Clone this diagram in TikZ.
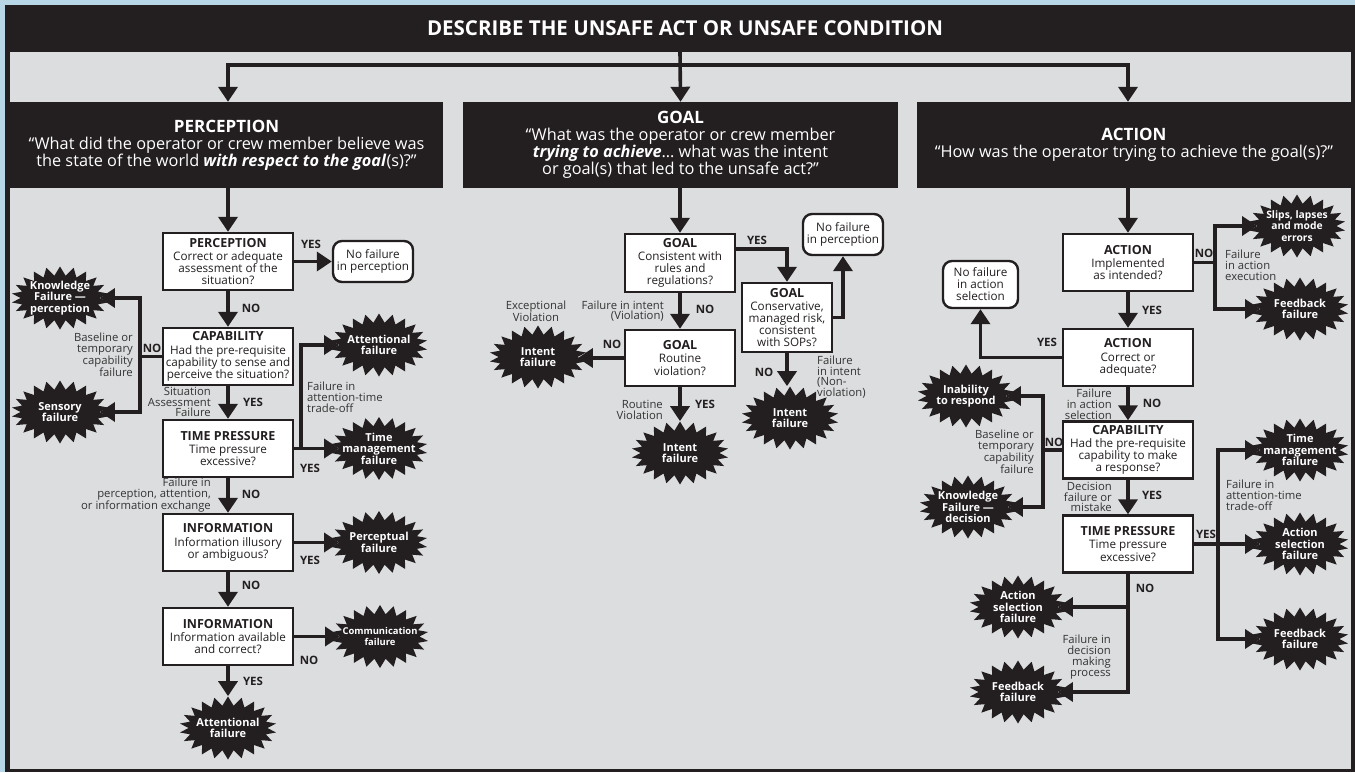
\documentclass[tikz,border=0pt]{standalone}
\usepackage{fontspec}
\setmainfont{Open Sans}
\usetikzlibrary{shapes.symbols,arrows.meta}
\definecolor{dark}{HTML}{231F20}
\definecolor{panel}{HTML}{DCDDDF}
\definecolor{sky}{HTML}{B7D6E6}
\definecolor{lbl}{HTML}{333333}
\newcommand\bxtitle[1]{{\bfseries\fontsize{12.5}{12}\selectfont #1}}
\newcommand\colhead[1]{{\bfseries\fontsize{17}{17}\selectfont #1}}
\tikzset{
  qbox/.style={draw=dark, line width=2.4pt, fill=white, text=dark, align=center,
    minimum width=130pt, minimum height=57pt, inner sep=1pt,
    font=\fontsize{11.7}{12.2}\selectfont},
  ybox/.style={draw=dark, line width=2.4pt, fill=white, text=dark, align=center,
    rounded corners=9pt, inner sep=1pt, font=\fontsize{11.7}{12}\selectfont},
  hbox/.style={fill=dark, text=white, align=center, minimum height=86pt,
    inner sep=0pt, font=\fontsize{16.3}{17}\selectfont},
  burst/.style={starburst, fill=dark, starburst points=22, starburst point height=9pt,
    random starburst=0, minimum width=97pt, minimum height=63pt, inner sep=0pt},
  btxt/.style={text=white, align=center, inner sep=0pt,
    font=\bfseries\fontsize{11}{11.5}\selectfont},
  conn/.style={draw=dark, line width=3.6pt},
  arr/.style={conn, -{Triangle[length=15pt,width=19pt]}},
  yn/.style={text=dark, inner sep=0pt, font=\bfseries\fontsize{11.5}{11}\selectfont},
  lab/.style={text=lbl, inner sep=0pt, font=\fontsize{11.3}{10.8}\selectfont},
}
\begin{document}
\begin{tikzpicture}[x=1pt,y=-1pt]
\useasboundingbox (0,0) rectangle (1355,772);
\fill[sky] (0,0) rectangle (1355,772);
\fill[dark] (5,5) rectangle (1355,772);
\fill[panel] (10,52) rectangle (1351,769);

\node[text=white, font=\bfseries\fontsize{20.5}{22}\selectfont] (hdr) at (685,28) {DESCRIBE THE UNSAFE ACT OR UNSAFE CONDITION};
\coordinate (hb) at (680,52);
\coordinate (split) at (680,65);

\node[hbox, minimum width=433pt] (phead) at (226.5,145) {\colhead{PERCEPTION}\\“What did the operator or crew member believe was\\the state of the world \textbf{\textit{with respect to the goal}}(s)?”};
\node[hbox, minimum width=435pt] (ghead) at (680.5,145) {\colhead{GOAL}\\“What was the operator or crew member\\\textbf{\textit{trying to achieve}}… what was the intent\\or goal(s) that led to the unsafe act?”};
\node[hbox, minimum width=434pt] (ahead) at (1134,145) {\colhead{ACTION}\\“How was the operator trying to achieve the goal(s)?”};

% Perception column
\node[qbox] (p1) at (228,261.5) {\bxtitle{PERCEPTION}\\[1pt]Correct or adequate\\assessment of the\\situation?};
\node[ybox, minimum width=80pt, minimum height=41pt] (pnf) at (373,261.5) {No failure\\in perception};
\node[qbox] (p2) at (228,356.5) {\bxtitle{CAPABILITY}\\[1pt]Had the pre-requisite\\capability to sense and\\perceive the situation?};
\node[burst, label={[btxt]center:{Knowledge\\Failure —\\perception}}] (kp) at (60,298) {};
\node[burst, label={[btxt]center:{Sensory\\failure}}] (sf) at (60,412) {};
\node[qbox] (p3) at (228,448.5) {\bxtitle{TIME PRESSURE}\\[1pt]Time pressure\\excessive?};
\node[burst, label={[btxt]center:{Attentional\\failure}}] (af1) at (379,345) {};
\node[burst, label={[btxt]center:{Time\\management\\failure}}] (tm1) at (379,448.5) {};
\node[qbox] (p4) at (228,542.5) {\bxtitle{INFORMATION}\\[1pt]Information illusory\\or ambiguous?};
\node[burst, label={[btxt]center:{Perceptual\\failure}}] (pf) at (379,542.5) {};
\node[qbox] (p5) at (228,636.5) {\bxtitle{INFORMATION}\\[1pt]Information available\\and correct?};
\node[burst, label={[btxt, font=\bfseries\fontsize{9.4}{11.5}\selectfont]center:{Communication\\failure}}] (cf) at (380,636.5) {};
\node[burst, label={[btxt]center:{Attentional\\failure}}] (af2) at (228,728) {};

% Goal column
\node[qbox, minimum width=110pt, minimum height=58pt] (g1) at (680,263) {\bxtitle{GOAL}\\[1pt]Consistent with\\rules and\\regulations?};
\node[qbox, minimum width=90pt, minimum height=69pt] (g2) at (787,317.5) {\bxtitle{GOAL}\\[1pt]Conservative,\\managed risk,\\consistent\\with SOPs?};
\node[ybox, minimum width=80pt, minimum height=41pt] (gnf) at (843,234.5) {No failure\\in perception};
\node[qbox, minimum width=110pt, minimum height=56pt] (g3) at (680,358) {\bxtitle{GOAL}\\[1pt]Routine\\violation?};
\node[burst, label={[btxt]center:{Intent\\failure}}] (if1) at (538,357) {};
\node[burst, label={[btxt]center:{Intent\\failure}}] (if2) at (680,453) {};
\node[burst, label={[btxt]center:{Intent\\failure}}] (if3) at (790,418) {};

% Action column
\node[qbox] (a1) at (1128,262.5) {\bxtitle{ACTION}\\[1pt]Implemented\\as intended?};
\node[burst, label={[btxt, font=\bfseries\fontsize{10.3}{11.5}\selectfont]center:{Slips, lapses\\and mode\\errors}}] (sl) at (1297,226) {};
\node[burst, label={[btxt]center:{Feedback\\failure}}] (fb1) at (1300,309) {};
\node[qbox] (a2) at (1128,357.5) {\bxtitle{ACTION}\\[1pt]Correct or\\adequate?};
\node[ybox, minimum width=75pt, minimum height=47pt] (anf) at (980.5,284.5) {No failure\\in action\\selection};
\node[qbox] (a3) at (1128,450) {\bxtitle{CAPABILITY}\\[1pt]Had the pre-requisite\\capability to make\\a response?};
\node[burst, label={[btxt]center:{Inability\\to respond}}] (ir) at (966,396) {};
\node[burst, label={[btxt]center:{Knowledge\\Failure —\\decision}}] (kd) at (968,507) {};
\node[qbox] (a4) at (1128,544) {\bxtitle{TIME PRESSURE}\\[1pt]Time pressure\\excessive?};
\node[burst, label={[btxt]center:{Time\\management\\failure}}] (tm2) at (1300,450) {};
\node[burst, label={[btxt]center:{Action\\selection\\failure}}] (as1) at (1300,544) {};
\node[burst, label={[btxt]center:{Feedback\\failure}}] (fb2) at (1300,639) {};
\node[burst, label={[btxt]center:{Action\\selection\\failure}}] (as2) at (1018,607) {};
\node[burst, label={[btxt]center:{Feedback\\failure}}] (fb3) at (1018,692) {};

% top connectors
\draw[arr] (hb) -- (ghead.north);
\draw[arr] (split) -| (phead.north -| p1.north);
\draw[arr] (split) -| (ahead.north -| a1.north);

% perception connectors
\draw[arr] (phead.south -| p1.north) -- (p1.north);
\draw[arr] (p1.east) -- (pnf.west);
\draw[arr] (p1.south) -- (p2.north);
\coordinate (pj1) at (140,356.5);
\draw[arr] (p2.west) -- (pj1) |- (kp.east);
\draw[arr] (pj1) |- (sf.east);
\draw[arr] (p2.south) -- (p3.north);
\coordinate (pj2) at (301,448.5);
\draw[arr] (p3.east) -- (tm1.west);
\draw[arr] (pj2) |- (af1.west);
\draw[arr] (p3.south) -- (p4.north);
\draw[arr] (p4.east) -- (pf.west);
\draw[arr] (p4.south) -- (p5.north);
\draw[arr] (p5.east) -- (cf.west);
\draw[arr] (p5.south) -- (af2.north);

% goal connectors
\draw[arr] (ghead.south -| g1.north) -- (g1.north);
\draw[arr] ([yshift=14pt]g1.east) -| (g2.north);
\draw[arr] (g2.east) -| (gnf.south);
\draw[arr] (g2.south) -- (if3.north -| g2.south);
\draw[arr] (g1.south) -- (g3.north);
\draw[arr] (g3.west) -- (if1.east |- g3.west);
\draw[arr] (g3.south) -- (if2.north);

% action connectors
\draw[arr] (ahead.south -| a1.north) -- (a1.north);
\coordinate (aj1) at (1215,262.5);
\draw[arr] (a1.east) -- (aj1) |- (sl.west);
\draw[arr] (aj1) |- (fb1.west);
\draw[arr] (a1.south) -- (a2.north);
\draw[arr] (a2.west) -| (anf.south);
\draw[arr] (a2.south) -- (a3.north);
\coordinate (aj2) at (1043,450);
\draw[arr] (a3.west) -- (aj2) |- (ir.east);
\draw[arr] (aj2) |- (kd.east);
\draw[arr] (a3.south) -- (a4.north);
\coordinate (aj3) at (1218,544);
\draw[arr] (a4.east) -- (as1.west);
\draw[arr] (aj3) |- (tm2.west);
\draw[arr] (aj3) |- (fb2.west);
\draw[arr] (a4.south) |- (fb3.east);
\draw[arr] (a4.south |- as2) -- (as2.east);

% perception labels
\node[yn] at (311,244) {YES};
\node[yn] at (251,308) {NO};
\node[yn] at (152,348) {NO};
\node[lab, align=right, anchor=east] at (133,355) {Baseline or\\temporary\\capability\\failure};
\node[lab, align=right, anchor=east] at (211,402) {Situation\\Assessment\\Failure};
\node[yn] at (253,402) {YES};
\node[lab, align=left, anchor=west] at (307,397) {Failure in\\attention-time\\trade-off};
\node[yn] at (310,468) {YES};
\node[lab, align=right, anchor=east] at (211,495) {Failure in\\perception, attention,\\or information exchange};
\node[yn] at (251,494) {NO};
\node[yn] at (310,560) {YES};
\node[yn] at (251,585) {NO};
\node[yn] at (309,660) {NO};
\node[yn] at (253,681) {YES};

% goal labels
\node[yn] at (757,240) {YES};
\node[yn] at (705,309) {NO};
\node[lab, align=right, anchor=east] at (664,311) {Failure in intent\\(Violation)};
\node[lab, align=center] at (536,311) {Exceptional\\Violation};
\node[yn] at (612,344) {NO};
\node[yn] at (705,404) {YES};
\node[lab, align=right, anchor=east] at (663,410) {Routine\\Violation};
\node[yn] at (764,372) {NO};
\node[lab, align=left, anchor=west] at (817,377) {Failure\\in intent\\(Non-\\violation)};

% action labels
\node[yn] at (1204,253) {NO};
\node[lab, align=left, anchor=west] at (1225,265) {Failure\\in action\\execution};
\node[yn] at (1152,310) {YES};
\node[yn] at (1047,342) {YES};
\node[yn] at (1152,403) {NO};
\node[lab, align=right, anchor=east] at (1112,404) {Failure\\in action\\selection};
\node[yn] at (1054,442) {NO};
\node[lab, align=right, anchor=east] at (1034,452) {Baseline or\\temporary\\capability\\failure};
\node[yn] at (1152,495) {YES};
\node[lab, align=right, anchor=east] at (1112,497) {Decision\\failure or\\mistake};
\node[yn] at (1206,534) {YES};
\node[lab, align=left, anchor=west] at (1226,495) {Failure in\\attention-time\\trade-off};
\node[yn] at (1145,588) {NO};
\node[lab, align=right, anchor=east] at (1111,657) {Failure in\\decision\\making\\process};
\end{tikzpicture}
\end{document}
